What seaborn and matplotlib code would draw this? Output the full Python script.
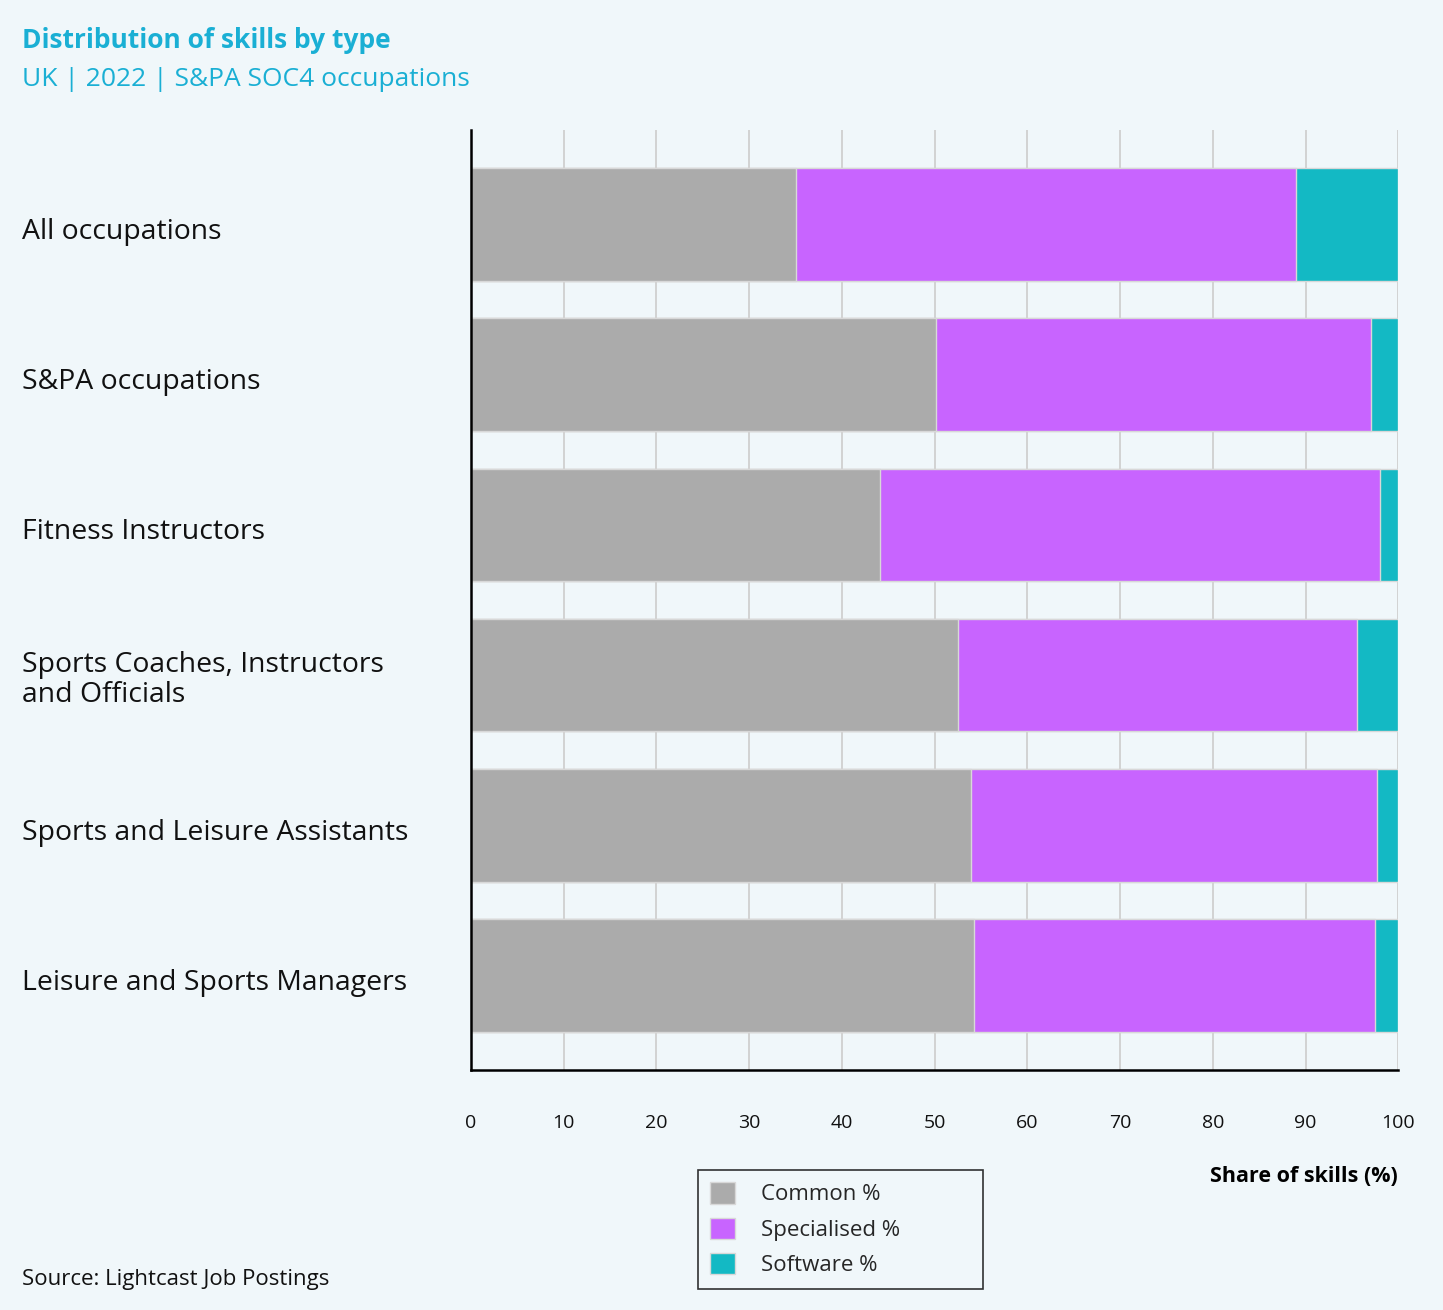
import numpy as np
import pandas as pd
import matplotlib.pyplot as plt
import seaborn as sns
from matplotlib.patches import Patch
from matplotlib.transforms import ScaledTranslation

# Chart data
occupations = [
    "All occupations",
    "S&PA occupations",
    "Fitness Instructors",
    "Sports Coaches, Instructors\nand Officials",
    "Sports and Leisure Assistants",
    "Leisure and Sports Managers",
]
common = [35.0, 50.1, 44.1, 52.5, 53.9, 54.2]
specialised = [54.0, 47.0, 53.9, 43.1, 43.8, 43.3]
software = [11.0, 2.9, 2.0, 4.4, 2.3, 2.5]
x_ticks = [0, 10, 20, 30, 40, 50, 60, 70, 80, 90, 100]

GREY = "#ABABAB"
PURPLE = "#C864FF"
TEAL = "#13B9C4"
BG = "#F0F7FA"
BLUE = "#1AAFD4"
FONT = ["Open Sans", "DejaVu Sans"]

sns.set_theme(style="white")
plt.rcParams["font.family"] = FONT

df = pd.DataFrame({
    "occupation": occupations,
    "common": common,
    "specialised": specialised,
    "software": software,
})
# cumulative ends for stacking (drawn back to front)
df["end_spec"] = df["common"] + df["specialised"]
df["end_soft"] = df["end_spec"] + df["software"]

fig = plt.figure(figsize=(14.43, 13.10), dpi=100, facecolor=BG)
ax = fig.add_axes([0.3264, 0.1832, 0.969 - 0.3264, 0.9008 - 0.1832])
ax.set_facecolor(BG)

edge = dict(edgecolor="#D8D8D8", linewidth=1)
sns.barplot(data=df, y="occupation", x="end_soft", color=TEAL, saturation=1,
            width=0.75, orient="h", ax=ax, zorder=2, **edge)
sns.barplot(data=df, y="occupation", x="end_spec", color=PURPLE, saturation=1,
            width=0.75, orient="h", ax=ax, zorder=3, **edge)
sns.barplot(data=df, y="occupation", x="common", color=GREY, saturation=1,
            width=0.75, orient="h", ax=ax, zorder=4, **edge)

ax.set_xlim(0, 100)
ax.set_ylim(5.63, -0.63)
ax.set_xticks(x_ticks)
ax.set_xticklabels([str(t) for t in x_ticks], fontsize=14, color="#111111")
ax.grid(axis="x", color="#CCCCCC", linewidth=1.2, zorder=0)
ax.set_axisbelow(True)

for side in ["top", "right"]:
    ax.spines[side].set_visible(False)
for side in ["left", "bottom"]:
    ax.spines[side].set_color("black")
    ax.spines[side].set_linewidth(1.8)
    ax.spines[side].set_zorder(10)

ax.tick_params(axis="x", direction="out", length=12, width=1.8, color="black", pad=20)
ax.tick_params(axis="y", direction="out", length=7, width=1.8, color="black", pad=316)
shift = ScaledTranslation(0, -4 / 100, fig.dpi_scale_trans)
for lab in ax.get_yticklabels():
    lab.set_horizontalalignment("left")
    lab.set_multialignment("left")
    lab.set_fontsize(20.4)
    lab.set_color("#111111")
    lab.set_linespacing(1.12)
    if "\n" not in lab.get_text():
        lab.set_transform(lab.get_transform() + shift)

ax.set_ylabel("")
ax.set_xlabel("")

# titles
fig.text(0.0152, 1 - 41 / 1310, "Distribution of skills by type", fontsize=19,
         fontweight="bold", color=BLUE, va="center", ha="left")
fig.text(0.0152, 1 - 80 / 1310, "UK | 2022 | S&PA SOC4 occupations", fontsize=19,
         color=BLUE, va="center", ha="left")

# axis title under the ticks
fig.text(1398 / 1443, 1 - 1176 / 1310, "Share of skills (%)", fontsize=15.5,
         fontweight="bold", color="black", ha="right", va="center")

fig.text(0.0152, 1 - 1280 / 1310, "Source: Lightcast Job Postings", fontsize=16,
         color="#111111", ha="left", va="center")

handles = [Patch(facecolor=GREY, edgecolor="#D8D8D8", label="Common %"),
           Patch(facecolor=PURPLE, edgecolor="#D8D8D8", label="Specialised %"),
           Patch(facecolor=TEAL, edgecolor="#D8D8D8", label="Software %")]
leg = fig.legend(handles=handles, loc="upper left",
                 bbox_to_anchor=(698 / 1443, 1 - 1287 / 1310, 285 / 1443, 117 / 1310),
                 mode="expand", frameon=True, fancybox=False, fontsize=16,
                 handlelength=1.1, handleheight=1.1, handletextpad=1.2,
                 borderpad=0.55, labelspacing=0.55, borderaxespad=0)
leg.get_frame().set_edgecolor("black")
leg.get_frame().set_linewidth(1.2)
leg.get_frame().set_facecolor(BG)

fig.savefig("out.png", dpi=100, facecolor=BG)
